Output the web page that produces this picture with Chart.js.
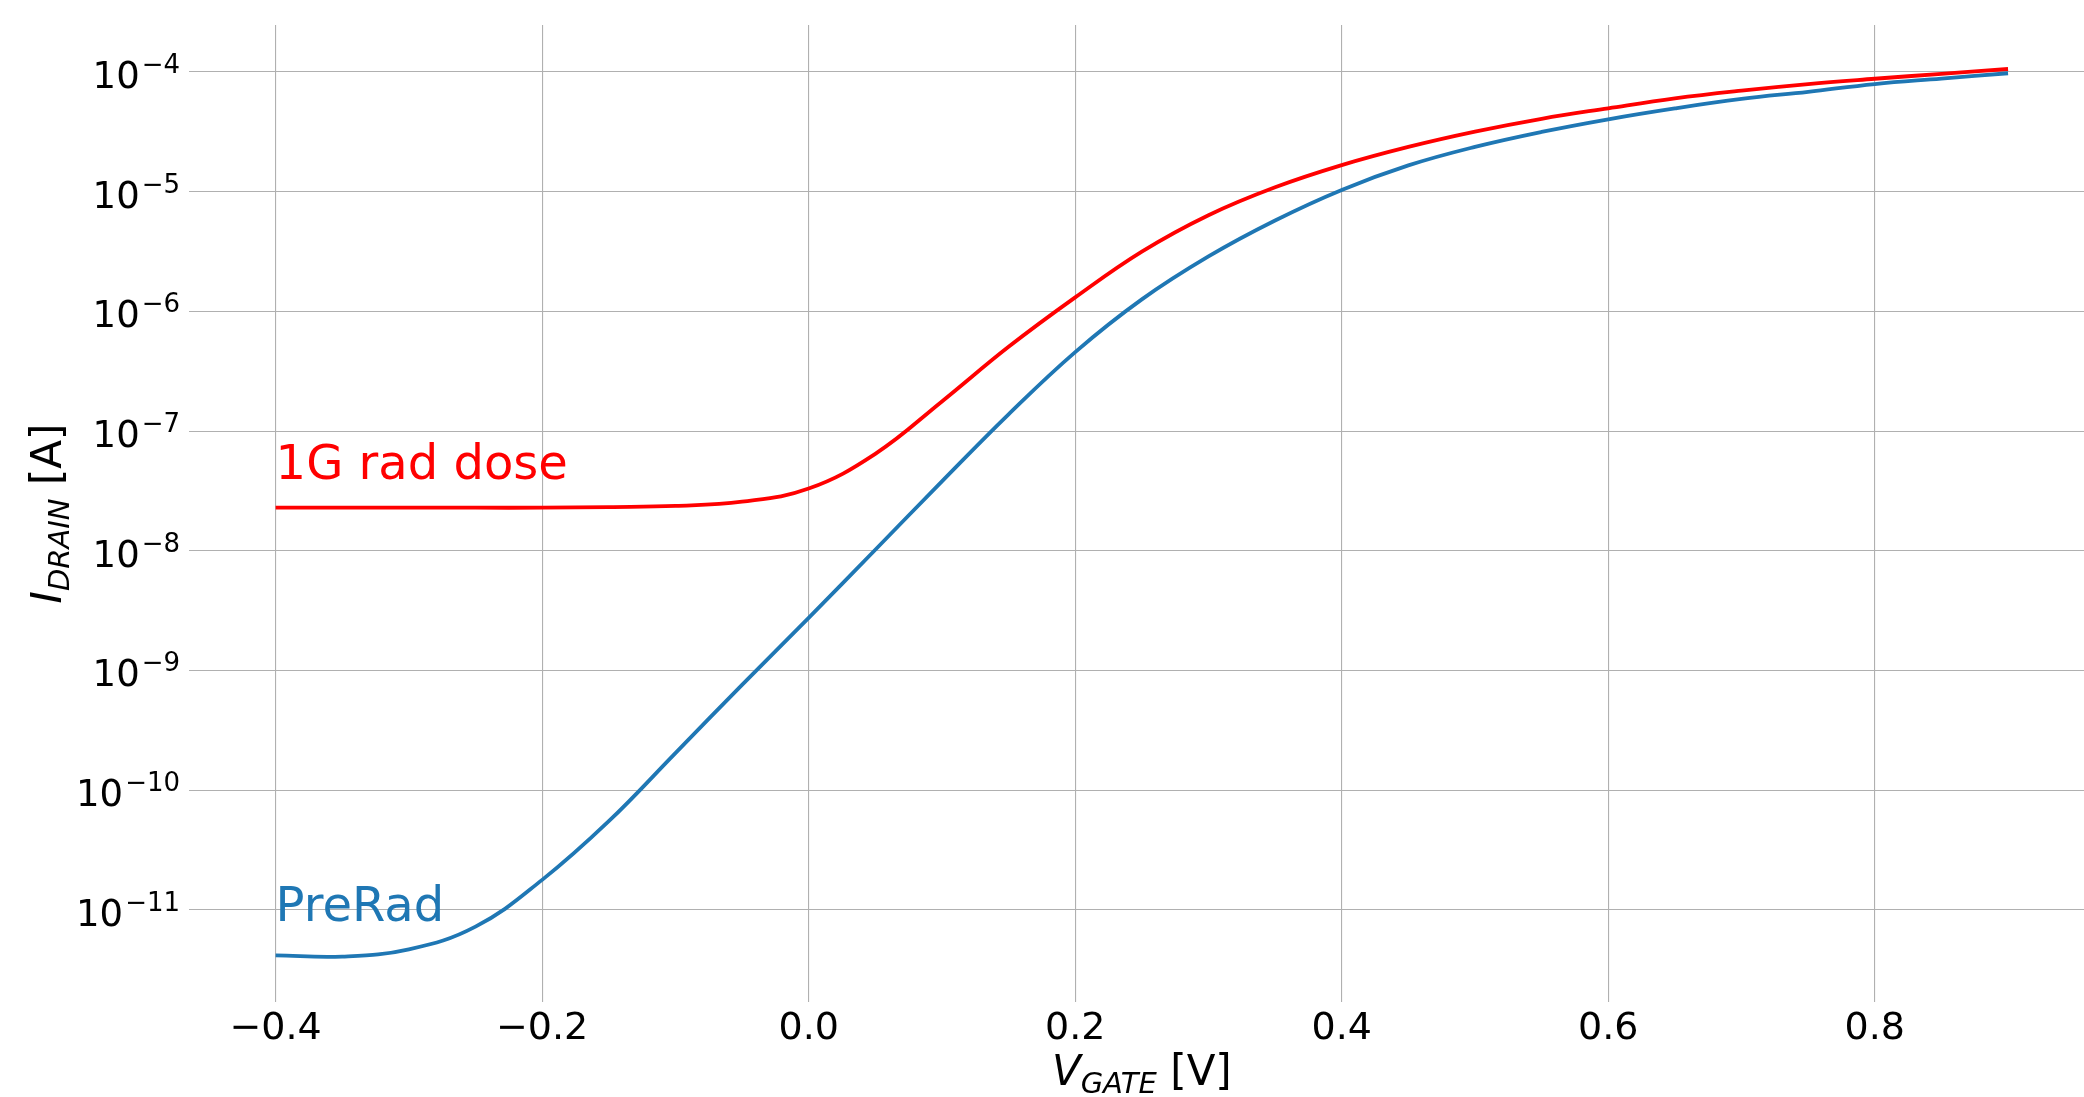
<!DOCTYPE html>
<html><head><meta charset="utf-8">
<script src="https://cdn.jsdelivr.net/npm/chart.js@4"></script>
<style>html,body{margin:0;padding:0;background:#fff;}canvas{display:block;}</style>
</head><body>
<canvas id="c" width="2084" height="1097"></canvas>
<script>
// ---- data ----
const vGate = [-0.40,-0.35,-0.30,-0.25,-0.20,-0.15,-0.10,-0.05,0.00,0.05,0.10,0.15,0.20,0.25,0.30,0.35,0.40,0.45,0.50,0.55,0.60,0.65,0.70,0.75,0.80,0.85,0.90];
const preRad = [4.17e-12,4.07e-12,4.68e-12,7.24e-12,1.78e-11,5.50e-11,2.04e-10,7.59e-10,2.75e-9,1.02e-8,3.80e-8,1.38e-7,4.57e-7,1.26e-6,2.88e-6,5.75e-6,1.035e-5,1.66e-5,2.37e-5,3.16e-5,4.03e-5,4.97e-5,5.96e-5,6.84e-5,7.94e-5,8.81e-5,9.77e-5];
const rad1G = [2.29e-8,2.29e-8,2.29e-8,2.29e-8,2.29e-8,2.32e-8,2.37e-8,2.57e-8,3.31e-8,6.46e-8,1.77e-7,5.06e-7,1.31e-6,3.16e-6,6.37e-6,1.09e-5,1.67e-5,2.37e-5,3.18e-5,4.07e-5,4.98e-5,6.03e-5,7.00e-5,7.94e-5,8.79e-5,9.66e-5,1.06e-4];
const xTickValues = [-0.4,-0.2,0.0,0.2,0.4,0.6,0.8];
const yTickExponents = [-4,-5,-6,-7,-8,-9,-10,-11];
const seriesNames = ['PreRad','1G rad dose'];
const seriesColors = ['#1f77b4','#ff0000'];
const labelAnchors = [[-0.4, 8e-12],[-0.4, 4e-8]];
const xTitleParts = ['V','GATE',' [V]'];
const yTitleParts = ['I','DRAIN',' [A]'];

const FONT = '"DejaVu Sans"';
const fmtX = v => (v < 0 ? '\u2212' : '') + Math.abs(v).toFixed(1);

const textPlugin = {
  id: 'textPlugin',
  afterDraw(chart) {
    const ctx = chart.ctx, xs = chart.scales.x, ys = chart.scales.y;
    ctx.save();
    ctx.fillStyle = '#000';
    ctx.textBaseline = 'alphabetic';
    ctx.textAlign = 'left';
    // y tick labels 10^e
    const rightEdge = 180;
    yTickExponents.forEach(e => {
      const py = ys.getPixelForValue(Math.pow(10, e));
      const exp = '\u2212' + Math.abs(e);
      ctx.font = '26px ' + FONT;
      const ew = ctx.measureText(exp).width;
      ctx.font = '37px ' + FONT;
      const bw = ctx.measureText('10').width;
      const left = rightEdge - ew - bw - 2;
      ctx.fillText('10', left, py + 16);
      ctx.font = '26px ' + FONT;
      ctx.fillText(exp, left + bw + 2, py + 1);
    });
    // x tick labels
    ctx.textAlign = 'center';
    ctx.font = '38px ' + FONT;
    xTickValues.forEach(v => {
      ctx.fillText(fmtX(v), xs.getPixelForValue(v), 1039);
    });
    // axis titles with subscripts
    ctx.textAlign = 'left';
    const big = 42, small = 29;
    const widths = (p) => {
      ctx.font = 'italic ' + big + 'px ' + FONT; const w0 = ctx.measureText(p[0]).width;
      ctx.font = 'italic ' + small + 'px ' + FONT; const w1 = ctx.measureText(p[1]).width;
      ctx.font = big + 'px ' + FONT; const w2 = ctx.measureText(p[2]).width;
      return [w0, w1, w2];
    };
    const drawTitle = (p, cx, base) => {
      const w = widths(p);
      const tot = w[0] + w[1] + w[2];
      const x0 = cx - tot / 2;
      ctx.font = 'italic ' + big + 'px ' + FONT; ctx.fillText(p[0], x0, base);
      ctx.font = 'italic ' + small + 'px ' + FONT; ctx.fillText(p[1], x0 + w[0], base + 8);
      ctx.font = big + 'px ' + FONT; ctx.fillText(p[2], x0 + w[0] + w[1], base);
    };
    const xCenter = (xs.getPixelForValue(-0.465) + xs.getPixelForValue(0.965)) / 2;
    drawTitle(xTitleParts, xCenter, 1085);
    ctx.save();
    ctx.translate(61, (chart.chartArea.top + chart.chartArea.bottom) / 2);
    ctx.rotate(-Math.PI / 2);
    drawTitle(yTitleParts, 0, 0);
    ctx.restore();
    // series annotations
    ctx.font = '48px ' + FONT;
    seriesNames.forEach((n, i) => {
      ctx.fillStyle = seriesColors[i];
      ctx.fillText(n, xs.getPixelForValue(labelAnchors[i][0]), ys.getPixelForValue(labelAnchors[i][1]));
    });
    ctx.restore();
  }
};

new Chart(document.getElementById('c'), {
  type: 'line',
  data: {
    datasets: [
      { label: seriesNames[0], data: vGate.map((v, i) => ({x: v, y: preRad[i]})), borderColor: seriesColors[0], borderWidth: 3.8, pointRadius: 0, fill: false, tension: 0.4 },
      { label: seriesNames[1], data: vGate.map((v, i) => ({x: v, y: rad1G[i]})), borderColor: seriesColors[1], borderWidth: 3.8, pointRadius: 0, fill: false, tension: 0.4 }
    ]
  },
  options: {
    responsive: false,
    animation: false,
    events: [],
    layout: { padding: { top: 25, left: 0, right: 0, bottom: 0 } },
    plugins: { legend: { display: false }, tooltip: { enabled: false } },
    scales: {
      x: {
        type: 'linear', min: -0.465, max: 0.957,
        afterBuildTicks: s => { s.ticks = xTickValues.map(v => ({value: v})); },
        afterFit: s => { s.height = 95; },
        ticks: { display: false },
        grid: { color: '#b0b0b0', lineWidth: 1.1, drawTicks: false },
        border: { display: false }
      },
      y: {
        type: 'logarithmic', min: Math.pow(10, -11.77), max: Math.pow(10, -3.607),
        afterBuildTicks: s => { s.ticks = yTickExponents.map(e => ({value: Math.pow(10, e)})); },
        afterFit: s => { s.width = 189; },
        ticks: { display: false },
        grid: { color: '#b0b0b0', lineWidth: 1.1, drawTicks: false },
        border: { display: false }
      }
    }
  },
  plugins: [textPlugin]
});
</script>
</body></html>
